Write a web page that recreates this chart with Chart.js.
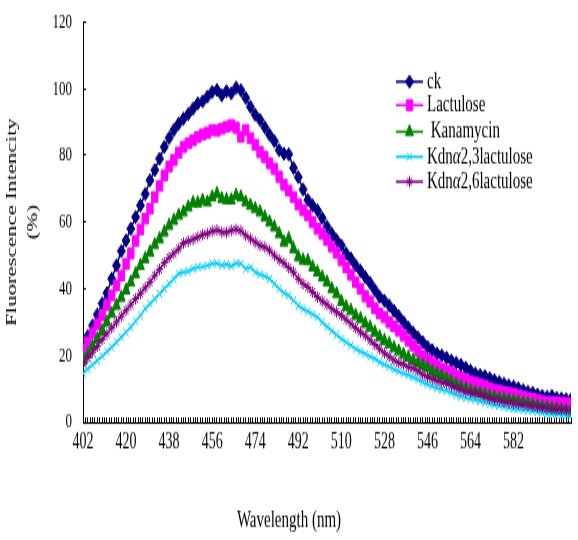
<!DOCTYPE html>
<html>
<head>
<meta charset="utf-8">
<title>Fluorescence Intencity</title>
<script src="https://cdn.jsdelivr.net/npm/chart.js@4.4.1/dist/chart.umd.min.js"></script>
<style>
  html, body { margin: 0; padding: 0; background: #fff; }
  #wrap { width: 578px; height: 540px; overflow: hidden; }
  /* the source picture is a vertically stretched Excel chart, so draw flat and stretch */
  #chart { display: block; width: 578px; height: 330px; transform: scaleY(1.6364); transform-origin: 0 0; }
</style>
</head>
<body>
<div id="wrap"><canvas id="chart" width="578" height="330"></canvas></div>
<script>
const wavelengths = [
  402, 404, 406, 408, 410, 412, 414, 416, 418, 420,
  422, 424, 426, 428, 430, 432, 434, 436, 438, 440,
  442, 444, 446, 448, 450, 452, 454, 456, 458, 460,
  462, 464, 466, 468, 470, 472, 474, 476, 478, 480,
  482, 484, 486, 488, 490, 492, 494, 496, 498, 500,
  502, 504, 506, 508, 510, 512, 514, 516, 518, 520,
  522, 524, 526, 528, 530, 532, 534, 536, 538, 540,
  542, 544, 546, 548, 550, 552, 554, 556, 558, 560,
  562, 564, 566, 568, 570, 572, 574, 576, 578, 580,
  582, 584, 586, 588, 590, 592, 594, 596, 598, 600,
  602, 604, 606
];

const ck = [
  23, 25.8, 29, 32.3, 35.6, 38.7, 43, 47, 51.3, 54.5,
  58, 61.5, 65, 68.4, 72.5, 75.6, 79, 82.5, 85.2, 87.6,
  89.5, 91, 92.4, 94, 95.6, 96.2, 97.6, 99, 99.6, 98,
  99.2, 98.6, 100.3, 99.5, 97.2, 94.6, 92.2, 90.6, 88.4, 86.2,
  84.3, 81.6, 80.5, 80.3, 76.2, 73.5, 69.8, 66.6, 65, 63.5,
  61.2, 58.6, 56.5, 54.6, 53, 50.6, 49.1, 47, 45.4, 43.5,
  41.8, 39.6, 37.6, 36.4, 35, 33.4, 31.8, 30, 28.4, 26.8,
  25.4, 24, 22.6, 21.6, 20.6, 20, 19.3, 18.5, 17.8, 17.2,
  16.3, 15.5, 14.6, 14.1, 13.8, 13.2, 12.6, 12, 11.5, 11,
  10.7, 10.2, 9.6, 9.1, 8.8, 8.3, 7.9, 7.6, 7.9, 7.3,
  7.1, 6.9, 6.8
];

const lactulose = [
  21.6, 24, 26.8, 29.4, 32, 35, 38, 41, 44, 47.5,
  50.6, 54.4, 57.8, 61, 64, 67.5, 70.8, 74, 76.6, 78.6,
  80.8, 82.5, 83.6, 84.5, 85.5, 86.3, 86.8, 87.6, 87.4, 88,
  88.6, 89.1, 88.3, 85.6, 87.6, 85.2, 83.2, 81, 79.5, 77.6,
  76, 73.6, 71.2, 69.5, 67.5, 65.3, 63.6, 62, 60, 58,
  56.5, 54.6, 52.6, 50.8, 48.6, 46.5, 44.2, 42, 40, 37.8,
  36.2, 34.2, 32.6, 31.5, 30, 28.8, 27.5, 26, 24.5, 23,
  21.5, 20, 18.8, 18, 17, 16.1, 15.5, 14.8, 14, 13.4,
  12.8, 12.2, 11.8, 11.3, 10.8, 10.2, 9.7, 9.4, 9, 8.8,
  8.5, 8.1, 7.7, 7.3, 7, 6.7, 6.3, 6, 6, 5.9,
  5.8, 5.7, 5.6
];

const kanamycin = [
  18.6, 20.4, 22.8, 25, 27.4, 30, 32.6, 35, 37.4, 39.6,
  42, 44.5, 47, 49, 51, 53.2, 55, 57, 59, 60.5,
  62, 63, 64.5, 65.8, 65.7, 66.5, 66, 67.5, 68.5, 67,
  66.7, 66.6, 68, 67.5, 66, 65, 64, 63, 61.5, 60,
  58.5, 56.5, 54, 55, 52, 49.6, 48.6, 48.4, 46.5, 45,
  43.5, 42, 40, 38.5, 36.2, 34.6, 33.5, 32, 31, 29.6,
  28.5, 27, 25.6, 24.5, 23.5, 22.3, 21.3, 20.3, 19.5, 18.6,
  17.8, 17, 16.3, 15.2, 14.5, 13.8, 13, 12.2, 11.3, 10.6,
  10, 9.5, 9, 8.7, 8.2, 7.8, 7.5, 7.2, 6.9, 6.7,
  6.4, 6.1, 5.8, 5.6, 5.2, 4.9, 4.6, 4.4, 4.1, 3.9,
  3.6, 3.3, 3
];

const kdn23 = [
  14.7, 16, 17.2, 18.5, 19.8, 21.2, 22.5, 24, 25.5, 27,
  28.5, 30.3, 32, 34, 35.5, 37, 38.5, 40, 41.5, 43,
  44.5, 45, 45.3, 46, 46.5, 46.6, 47, 47.5, 47.7, 47,
  47.3, 46.8, 47.7, 47.5, 46, 46.5, 45, 44.3, 43.8, 43,
  41.5, 40, 38.7, 38, 36.5, 35, 34, 33.2, 32.3, 31.5,
  30, 28.7, 27.4, 26.2, 25, 24, 23, 22, 21.2, 20.5,
  19.7, 19, 18, 17.3, 16.6, 15.8, 15.2, 14.6, 14.1, 13.5,
  12.8, 12, 11.3, 10.8, 10.2, 9.8, 9.4, 8.8, 8.2, 7.7,
  7.3, 7, 6.7, 6.3, 5.9, 5.5, 5.2, 4.9, 4.6, 4.3,
  4.1, 3.9, 3.6, 3.5, 3.3, 3.1, 2.8, 2.6, 2.5, 2.3,
  2.2, 2.1, 2
];

const kdn26 = [
  17.7, 19.3, 21, 22.8, 24.8, 26.5, 28.3, 30, 31.8, 33.5,
  35.3, 37, 38.6, 40.3, 42, 44, 45.8, 47.8, 49.4, 50.6,
  52, 53.7, 54.3, 54.8, 55.5, 56.2, 56.5, 57.3, 57.6, 57,
  56.9, 57.5, 57.8, 57.4, 56, 55, 54, 53, 52.5, 51.5,
  50, 48.7, 47.7, 46.3, 45, 43, 41.5, 40.5, 39, 37.5,
  36.3, 35.3, 34, 33, 32, 30.8, 29.5, 28.3, 27, 26,
  24.6, 23.3, 22, 20.7, 19.7, 18.6, 17.8, 17.3, 16.6, 16.2,
  15.3, 14.3, 13.6, 13, 12.4, 11.9, 11.6, 11, 10.3, 9.8,
  9.2, 9, 8.8, 8.3, 7.8, 7.2, 6.8, 6.5, 6.1, 5.9,
  5.7, 5.5, 5.3, 5.1, 4.9, 4.6, 4.4, 4.2, 4, 3.9,
  3.8, 3.7, 3.6
];

const seriesNames = ['ck', 'Lactulose', 'Kanamycin', 'Kdn\u03b12,3lactulose', 'Kdn\u03b12,6lactulose'];
const legendNames = ['ck', 'Lactulose', ' Kanamycin', 'Kdn\u03b12,3lactulose', 'Kdn\u03b12,6lactulose'];

const SERIF = '"Liberation Serif", "Times New Roman", serif';
Chart.defaults.font.family = SERIF;
Chart.defaults.color = '#000';

function series(label, values, color, style, radius, order) {
  return {
    label: label,
    data: wavelengths.map((w, i) => ({ x: w, y: values[i] })),
    borderColor: color,
    backgroundColor: color,
    borderWidth: 1.5,
    pointStyle: style,
    pointRadius: radius,
    pointBorderWidth: 1,
    pointBackgroundColor: color,
    pointBorderColor: color,
    order: order
  };
}

// legend sits inside the plot like the Excel one, drawn after the chart
const legendRows = [49.9, 64.2, 80.5, 95.8, 111];
const floatingLegend = {
  id: 'floatingLegend',
  afterDraw(chart) {
    const ctx = chart.ctx;
    ctx.save();
    chart.data.datasets.forEach((ds, i) => {
      const y = legendRows[i];
      ctx.strokeStyle = ds.borderColor;
      ctx.fillStyle = ds.backgroundColor;
      ctx.lineWidth = 1.5;
      ctx.beginPath();
      ctx.moveTo(396, y);
      ctx.lineTo(423, y);
      ctx.stroke();
      ctx.lineWidth = 1;
      Chart.helpers.drawPoint(ctx, { pointStyle: ds.pointStyle, radius: ds.pointRadius, borderWidth: 1, rotation: 0 }, 409.5, y);

      // alpha is italic in the original legend
      ctx.fillStyle = '#000';
      ctx.textBaseline = 'middle';
      let x = 427;
      const parts = legendNames[i].split('\u03b1');
      parts.forEach((p, k) => {
        ctx.font = '15px ' + SERIF;
        ctx.fillText(p, x, y);
        x += ctx.measureText(p).width;
        if (k < parts.length - 1) {
          ctx.font = 'italic 15px ' + SERIF;
          ctx.fillText('\u03b1', x, y);
          x += ctx.measureText('\u03b1').width;
        }
      });
    });
    ctx.restore();
  }
};

new Chart(document.getElementById('chart'), {
  type: 'line',
  data: {
    datasets: [
      series(seriesNames[0], ck, '#000080', 'rectRot', 4, 5),
      series(seriesNames[1], lactulose, '#ff00ff', 'rect', 4.5, 4),
      series(seriesNames[2], kanamycin, '#008000', 'triangle', 4.5, 3),
      series(seriesNames[3], kdn23, '#00ccff', 'crossRot', 3.5, 2),
      series(seriesNames[4], kdn26, '#800080', 'star', 3.5, 1)
    ]
  },
  options: {
    responsive: false,
    animation: false,
    layout: { padding: { top: 13.4, left: 0, right: 0, bottom: 0 } },
    plugins: {
      legend: { display: false },
      tooltip: { enabled: false },
      title: {
        display: true,
        position: 'bottom',
        text: 'Wavelength (nm)',
        color: '#000',
        font: { size: 15, weight: 'normal' },
        padding: { top: 0, bottom: 3 }
      }
    },
    scales: {
      x: {
        type: 'linear',
        min: 402,
        max: 606,
        border: { display: true, color: '#000', width: 1 },
        grid: { drawOnChartArea: false, color: '#000', tickLength: -3, tickWidth: 1 },
        ticks: {
          stepSize: 1,
          autoSkip: false,
          maxRotation: 0,
          minRotation: 0,
          padding: 7,
          color: '#000',
          font: { size: 14 },
          callback: (v) => ((v - 402) % 18 === 0 && v <= 582) ? String(v) : ''
        },
        afterFit: (s) => { s.height = 51; }
      },
      y: {
        min: 0,
        max: 120,
        border: { display: true, color: '#000', width: 1 },
        grid: { drawOnChartArea: false, color: '#000', tickLength: -3, tickWidth: 1 },
        ticks: { stepSize: 20, padding: 14, color: '#000', font: { size: 13 } },
        title: {
          display: true,
          text: ['Fluorescence Intencity', '(%)'],
          color: '#000',
          font: { size: 14, weight: 'normal', lineHeight: 1.5 },
          padding: { top: 1.5, bottom: 0 }
        },
        // label padding would otherwise push the plot top down
        afterFit: (s) => { s.width = 83; s.paddingTop = 0; s.paddingBottom = 0; }
      }
    }
  },
  plugins: [floatingLegend]
});
</script>
</body>
</html>
